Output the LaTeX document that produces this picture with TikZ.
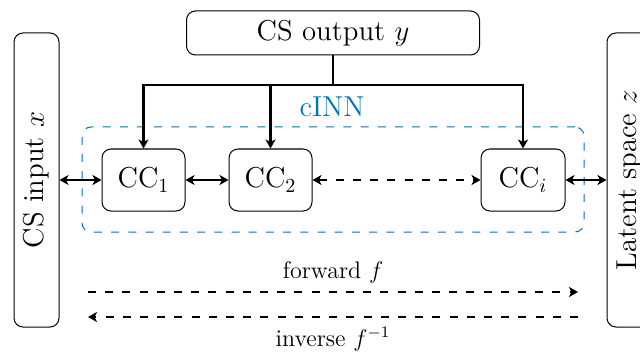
\documentclass[tikz,border=0pt]{standalone}
\usetikzlibrary{arrows.meta}
\definecolor{cblue}{RGB}{0,114,189}
\begin{document}
\begin{tikzpicture}[x=0.5pt,y=-0.5pt,
  box/.style={draw, rounded corners=4.5pt, line width=0.5pt, inner sep=0pt, font=\Large},
  ar/.style={line width=1.1pt, -{Stealth[length=4.5pt,width=5pt,inset=1.2pt]}},
  dar/.style={line width=1.1pt, {Stealth[length=4.5pt,width=5pt,inset=1.2pt]}-{Stealth[length=4.5pt,width=5pt,inset=1.2pt]}},
  dashpat/.style={dash pattern=on 4pt off 4.6pt},
  lbl/.style={font=\Large, inner sep=0pt}
]
\useasboundingbox (0,0) rectangle (640,352);

% outer boxes
\node[box, minimum width=146.5pt, minimum height=22pt] (out) at (333,33) {CS output $y$};
\node[box, minimum width=22.5pt, minimum height=147pt] (inp) at (36.5,180) {};
\node[lbl, rotate=90] (inptext) at (inp.center) {CS input $x$};
\node[box, minimum width=22.5pt, minimum height=147pt] (lat) at (629.5,180) {};
\node[lbl, rotate=90] (lattext) at (lat.center) {Latent space $z$};

% cINN frame
\node[draw=cblue, dashpat, rounded corners=4.5pt, line width=0.5pt, inner sep=0pt,
      minimum width=251pt, minimum height=52.5pt] (cinn) at (333,179.5) {};
\node[lbl, text=cblue] (cinnlabel) at (332,107) {cINN};

% coupling blocks
\node[box, minimum width=41.5pt, minimum height=31pt] (cc1) at (143.5,180) {CC$_1$};
\node[box, minimum width=41.5pt, minimum height=31pt] (cc2) at (270.5,180) {CC$_2$};
\node[box, minimum width=42pt, minimum height=31pt] (cci) at (523,180) {CC$_i$};

% condition lines
\coordinate (hub) at (333,85);
\draw[line width=1.1pt] (out.south) -- (hub);
\draw[ar] (hub) -| (cc1.north);
\draw[ar] (hub) -| (cc2.north);
\draw[ar] (hub) -| (cci.north);

% chain arrows
\draw[dar] (inp.east |- cc1.west) -- (cc1.west);
\draw[dar] (cc1.east) -- (cc2.west);
\draw[dar, dashpat] (cc2.east) -- (cci.west);
\draw[dar] (cci.east) -- (lat.west |- cci.east);

% forward / inverse
\coordinate (fl) at (88,292);
\coordinate (fr) at (578,292);
\coordinate (il) at (88,317);
\coordinate (ir) at (578,317);
\draw[ar, dashpat] (fl) -- (fr);
\draw[ar, dashpat] (ir) -- (il);
\node[font=\large] (fwd) at (333,272) {forward $f$};
\node[font=\large] (inv) at (333,339) {inverse $f^{-1}$};
\end{tikzpicture}
\end{document}
